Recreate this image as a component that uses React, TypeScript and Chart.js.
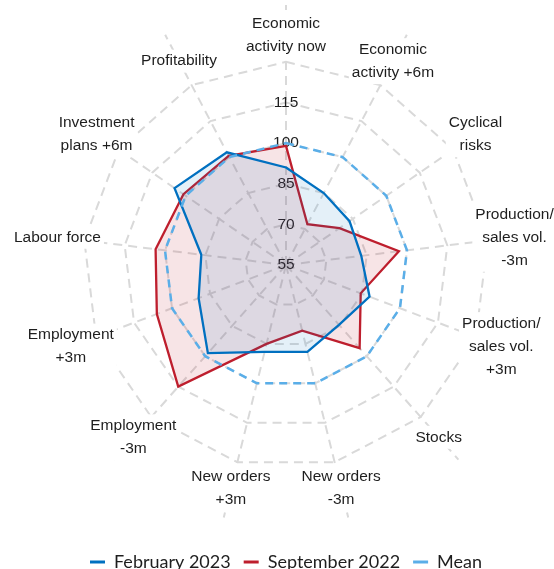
import React, { useEffect, useRef } from 'react';
import { Chart, registerables } from 'chart.js';

Chart.register(...registerables);

const categories: string[][] = [
  ['Economic', 'activity now'],
  ['Economic', 'activity +6m'],
  ['Cyclical', 'risks'],
  ['Production/', 'sales vol.', '-3m'],
  ['Production/', 'sales vol.', '+3m'],
  ['Stocks'],
  ['New orders', '-3m'],
  ['New orders', '+3m'],
  ['Employment', '-3m'],
  ['Employment', '+3m'],
  ['Labour force'],
  ['Investment', 'plans +6m'],
  ['Profitability'],
];

const february2023 = [91, 85, 83.5, 83, 88, 84.5, 88, 88, 98.5, 89.5, 86.5, 105, 102];
const september2022 = [99, 72, 79, 97, 84.5, 96, 80, 85, 115, 106, 103.5, 101, 100.5];
const mean = [100, 100, 100, 100, 100, 100, 100, 100, 100, 100, 100, 100, 100];

const gridTicks = [55, 70, 85, 100, 115, 130];
const labelledTicks = [55, 70, 85, 100, 115];

const LABEL_VALUE = 140;
const LABEL_LINE_H = 23;
const LABEL_FONT = '15.5px "Liberation Sans", Arial, sans-serif';

const axisLabelPlugin = {
  id: 'axisLabels',
  beforeDatasetsDraw(chart: any) {
    const scale = chart.scales.r;
    const ctx = chart.ctx;
    ctx.save();
    ctx.font = LABEL_FONT;
    ctx.textAlign = 'center';
    ctx.textBaseline = 'middle';
    categories.forEach((lines, i) => {
      const p = scale.getPointPositionForValue(i, LABEL_VALUE);
      const n = lines.length;
      const w = Math.max(...lines.map((l) => ctx.measureText(l).width));
      const h = n * LABEL_LINE_H;
      ctx.fillStyle = '#ffffff';
      ctx.fillRect(p.x - w / 2 - 3, p.y - h / 2, w + 6, h);
      ctx.fillStyle = '#1e1e1e';
      lines.forEach((l, j) => {
        ctx.fillText(l, p.x, p.y - h / 2 + LABEL_LINE_H * (j + 0.5));
      });
    });
    ctx.restore();
  },
};

export default function App() {
  const canvasRef = useRef<HTMLCanvasElement | null>(null);

  useEffect(() => {
    if (!canvasRef.current) return;
    const chart = new Chart(canvasRef.current, {
      type: 'radar',
      data: {
        labels: categories,
        datasets: [
          {
            label: 'February 2023',
            data: february2023,
            borderColor: '#0070C0',
            backgroundColor: 'rgba(0,112,192,0.105)',
            borderWidth: 2.3,
            fill: true,
            pointRadius: 0,
            pointStyle: 'line',
            order: 1,
          },
          {
            label: 'September 2022',
            data: september2022,
            borderColor: '#BE1E2D',
            backgroundColor: 'rgba(192,32,48,0.12)',
            borderWidth: 2.3,
            fill: true,
            pointRadius: 0,
            pointStyle: 'line',
            order: 2,
          },
          {
            label: 'Mean',
            data: mean,
            borderColor: '#5AAEE8',
            backgroundColor: 'rgba(0,0,0,0)',
            borderWidth: 2.5,
            borderDash: [8, 6],
            fill: false,
            pointRadius: 0,
            pointStyle: 'line',
            order: 0,
          },
        ],
      },
      options: {
        animation: false,
        responsive: true,
        maintainAspectRatio: false,
        layout: { padding: { left: 18, right: 0, top: 0, bottom: 0 } },
        elements: { line: { tension: 0 } },
        scales: {
          r: {
            min: 55,
            max: 151,
            afterBuildTicks: (scale: any) => {
              // index 0 is never labelled by the radial scale, so the first grid value is repeated
              scale.ticks = [gridTicks[0], ...gridTicks].map((v) => ({ value: v }));
            },
            ticks: {
              display: true,
              showLabelBackdrop: false,
              backdropPadding: 0,
              color: '#1e1e1e',
              font: { family: '"Liberation Sans", Arial, sans-serif', size: 15.5 },
              callback: (v: any) => (labelledTicks.includes(Number(v)) ? String(v) : ''),
            },
            grid: { color: '#D9D9D9', lineWidth: 2 },
            border: { dash: [9, 6] },
            angleLines: { color: '#D9D9D9', lineWidth: 2, borderDash: [9, 6] },
            pointLabels: { display: false },
          },
        },
        plugins: {
          tooltip: { enabled: false },
          legend: {
            position: 'bottom',
            labels: {
              usePointStyle: true,
              pointStyleWidth: 15,
              padding: 13,
              color: '#1e1e1e',
              font: { family: 'Lato, "Open Sans", sans-serif', size: 18 },
              sort: (a: any, b: any) => a.datasetIndex - b.datasetIndex,
              generateLabels: (ch: any) =>
                (Chart.defaults.plugins.legend.labels as any)
                  .generateLabels(ch)
                  .map((l: any) => ({ ...l, lineWidth: 3, lineDash: [], pointStyle: 'line' })),
            },
          },
        },
      },
      plugins: [axisLabelPlugin],
    } as any);
    return () => chart.destroy();
  }, []);

  return (
    <div style={{ position: 'fixed', left: 0, top: -10, width: 554, height: 591, background: '#fff' }}>
      <canvas ref={canvasRef} />
    </div>
  );
}
